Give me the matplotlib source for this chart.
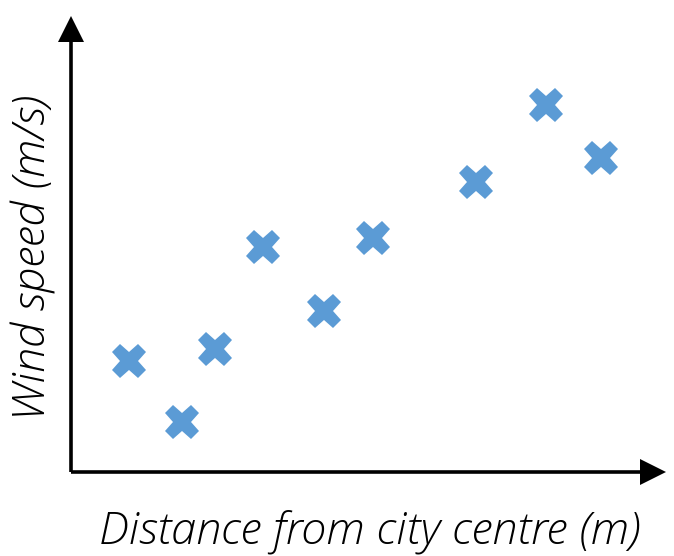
import matplotlib
matplotlib.use("Agg")
import matplotlib.pyplot as plt
from matplotlib.patches import Polygon

# Observations: distance from the centre vs. wind speed (arbitrary units, 0-100)
distance = [9.7, 18.6, 24.2, 32.3, 42.5, 50.7, 68.0, 79.8, 89.0]
wind_speed = [24.4, 11.0, 27.0, 49.3, 35.3, 51.3, 63.6, 80.5, 68.9]

x_label = "Distance from city centre (m)"
y_label = "Wind speed (m/s)"

W, H = 674, 556
fig = plt.figure(figsize=(W / 100, H / 100), dpi=100)

# axis origin at pixel (71, 472); arrows reach x=666 and y=16
x0, y0, x1, y1 = 71, 472, 666, 16
ax = fig.add_axes([x0 / W, (H - y0) / H, (x1 - x0) / W, (y0 - y1) / H])
ax.set_xlim(0, 100)
ax.set_ylim(0, 100)
ax.axis("off")

ax.plot(distance, wind_speed, linestyle="none", marker="X", markersize=25,
        color="#5B9BD5", markeredgewidth=0, clip_on=False)

# axes drawn as arrows
lw = 2.6
hx = 26 / (x1 - x0)   # arrowhead length along x (axes fraction)
hy = 26 / (y0 - y1)   # arrowhead length along y
wx = 13 / (x1 - x0)   # half-width in x fraction
wy = 13 / (y0 - y1)   # half-width in y fraction
ax.plot([0, 1 - hx], [0, 0], color="black", lw=lw, transform=ax.transAxes,
        clip_on=False, solid_capstyle="butt")
ax.plot([0, 0], [0, 1 - hy], color="black", lw=lw, transform=ax.transAxes,
        clip_on=False, solid_capstyle="butt")
ax.add_patch(Polygon([(1 - hx, -wy), (1, 0), (1 - hx, wy)], closed=True,
                     facecolor="black", edgecolor="none",
                     transform=ax.transAxes, clip_on=False))
ax.add_patch(Polygon([(-wx, 1 - hy), (0, 1), (wx, 1 - hy)], closed=True,
                     facecolor="black", edgecolor="none",
                     transform=ax.transAxes, clip_on=False))

font = dict(family="Open Sans", weight="light", style="italic", size=32.5,
            color="black")
fig.text(370 / W, 1 - 532 / H, x_label, ha="center", va="center", **font)
fig.text(34 / W, 1 - 257 / H, y_label, ha="center", va="center",
         rotation=90, **font)

fig.savefig("out.png", dpi=100)
